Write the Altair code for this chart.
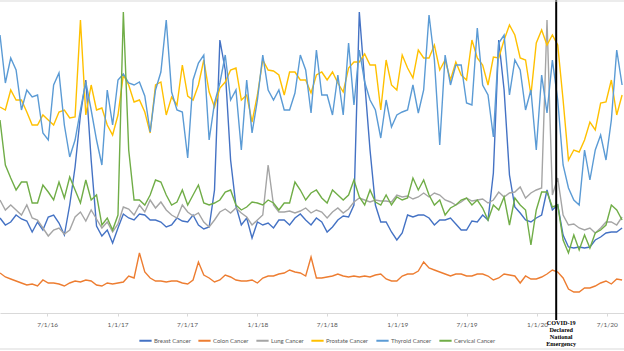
import altair as alt
import pandas as pd

series_names = ["Breast Cancer", "Colon Cancer", "Lung Cancer",
                "Prostate Cancer", "Thyroid Cancer", "Cervical Cancer"]
colors = ["#4472C4", "#ED7D31", "#A5A5A5", "#FFC000", "#5B9BD5", "#70AD47"]

# bi-weekly sample dates
dates = pd.date_range("2016-02-29", periods=117, freq="14D").strftime("%Y-%m-%dT00:00:00").tolist()

breast = [95, 88, 91, 98, 94, 92, 81, 91, 83, 96,
          98, 90, 78, 108, 146, 198, 233, 153, 87, 77,
          83, 70, 85, 99, 95, 93, 99, 98, 93, 93,
          91, 86, 88, 95, 92, 91, 98, 88, 84, 86,
          123, 273, 243, 153, 107, 88, 95, 75, 91, 88,
          90, 85, 93, 93, 88, 95, 99, 93, 88, 95,
          91, 81, 86, 93, 97, 96, 108, 301, 231, 163,
          108, 91, 91, 81, 73, 80, 98, 96, 98, 98,
          95, 88, 93, 93, 95, 89, 83, 83, 92, 91,
          98, 93, 140, 273, 223, 138, 106, 100, 93, 91,
          95, 98, 123, 103, 108, 78, 66, 65, 66, 65,
          66, 73, 76, 80, 81, 81, 85]

colon = [40, 36, 34, 32, 30, 28, 29, 27, 33, 30,
         30, 29, 27, 30, 32, 31, 33, 32, 28, 27,
         30, 29, 30, 31, 37, 35, 60, 41, 35, 32,
         32, 31, 32, 32, 30, 29, 33, 51, 38, 35,
         31, 33, 38, 36, 33, 32, 32, 33, 30, 35,
         37, 37, 39, 40, 43, 41, 40, 37, 56, 35,
         35, 36, 37, 39, 37, 36, 37, 36, 37, 36,
         38, 39, 34, 32, 32, 37, 39, 39, 42, 51,
         45, 43, 41, 39, 37, 39, 39, 37, 37, 39,
         39, 37, 33, 35, 39, 38, 37, 30, 37, 34,
         34, 36, 39, 43, 41, 35, 24, 21, 21, 25,
         25, 27, 30, 32, 29, 34, 33]

lung = [113, 103, 108, 103, 98, 108, 95, 93, 85, 77,
        83, 85, 79, 83, 96, 101, 92, 103, 94, 85,
        91, 81, 89, 106, 104, 98, 108, 101, 113, 105,
        111, 103, 98, 95, 108, 101, 97, 100, 91, 86,
        93, 101, 104, 100, 105, 100, 96, 88, 93, 98,
        148, 108, 101, 101, 102, 100, 102, 105, 100, 103,
        101, 95, 101, 105, 100, 104, 111, 115, 113, 111,
        113, 112, 112, 111, 118, 116, 117, 114, 116, 120,
        116, 120, 118, 113, 111, 108, 111, 115, 112, 113,
        114, 110, 113, 121, 116, 120, 121, 126, 115, 120,
        123, 125, 293, 118, 135, 98, 88, 89, 85, 83,
        85, 80, 85, 91, 91, 88, 96]

prostate = [206, 203, 223, 213, 213, 201, 188, 188, 198, 193,
            188, 201, 203, 195, 196, 293, 198, 228, 203, 205,
            188, 178, 198, 238, 228, 211, 213, 201, 180, 228,
            231, 198, 216, 208, 248, 217, 213, 228, 253, 221,
            206, 225, 231, 243, 245, 213, 218, 191, 218, 253,
            243, 242, 238, 218, 241, 241, 233, 233, 220, 238,
            241, 233, 241, 230, 221, 245, 251, 251, 259, 248,
            248, 203, 253, 228, 223, 258, 245, 235, 263, 255,
            255, 268, 243, 253, 233, 251, 238, 233, 273, 255,
            248, 228, 256, 255, 273, 288, 278, 255, 253, 218,
            270, 283, 268, 278, 268, 213, 153, 163, 161, 173,
            191, 183, 210, 211, 233, 198, 218]

thyroid = [278, 230, 255, 243, 203, 223, 216, 218, 180, 173,
           228, 240, 188, 156, 173, 203, 231, 203, 173, 148,
           223, 188, 233, 239, 230, 228, 231, 217, 181, 223,
           241, 293, 221, 203, 201, 155, 233, 250, 258, 173,
           210, 230, 258, 213, 223, 163, 233, 180, 213, 258,
           223, 213, 223, 203, 203, 220, 258, 243, 200, 263,
           218, 218, 198, 238, 198, 270, 208, 263, 231, 213,
           203, 175, 213, 186, 198, 201, 203, 228, 200, 223,
           298, 253, 168, 258, 228, 248, 248, 210, 208, 285,
           228, 218, 176, 270, 278, 218, 253, 243, 203, 223,
           163, 238, 200, 253, 213, 148, 125, 113, 108, 163,
           133, 163, 178, 153, 193, 263, 228]

cervical = [193, 148, 135, 123, 131, 131, 110, 110, 128, 121,
            113, 131, 115, 136, 123, 110, 133, 113, 118, 88,
            95, 83, 98, 301, 163, 113, 113, 108, 118, 133,
            131, 118, 108, 111, 123, 108, 118, 128, 110, 108,
            110, 113, 121, 123, 108, 103, 106, 111, 110, 108,
            113, 110, 103, 110, 110, 131, 123, 113, 120, 123,
            115, 110, 123, 118, 113, 118, 133, 116, 108, 123,
            111, 108, 118, 108, 116, 113, 115, 135, 123, 133,
            118, 108, 113, 98, 105, 108, 113, 115, 108, 113,
            105, 93, 108, 103, 116, 88, 115, 108, 103, 68,
            103, 121, 121, 106, 108, 73, 60, 78, 63, 78,
            65, 80, 83, 88, 108, 103, 93]

tick_dates = ["2016-07-01", "2017-01-01", "2017-07-01", "2018-01-01", "2018-07-01",
              "2019-01-01", "2019-07-01", "2020-01-01", "2020-07-01"]
covid_date = "2020-02-20T00:00:00"
covid_label = "COVID-19\nDeclared\nNational\nEmergency"

all_series = [breast, colon, lung, prostate, thyroid, cervical]
rows = []
for name, vals in zip(series_names, all_series):
    for d, v in zip(dates, vals):
        rows.append({"date": d, "series": name, "value": v})
df = pd.DataFrame(rows)


def dt(s):
    y, m, d = s.split("-")
    return alt.DateTime(year=int(y), month=int(m), date=int(d))


x_scale = alt.Scale(domain=[dt("2016-02-29"), dt("2020-08-15")])

lines = alt.Chart(df).mark_line(strokeWidth=1.4, clip=True).encode(
    x=alt.X("date:T", scale=x_scale,
            axis=alt.Axis(values=[dt(t) for t in tick_dates], format="%-m/%-d/%y",
                          title=None, grid=False, domainColor="#d9d9d9", tickColor="#d9d9d9",
                          tickSize=3, labelPadding=5, labelFont="Lato", labelFontSize=6.5,
                          labelColor="#595959")),
    y=alt.Y("value:Q", scale=alt.Scale(domain=[0, 313], nice=False, zero=True), axis=None),
    color=alt.Color("series:N",
                    scale=alt.Scale(domain=series_names, range=colors),
                    legend=alt.Legend(title=None, orient="none", legendX=138, legendY=333,
                                      direction="horizontal", columns=6,
                                      symbolType="stroke", symbolStrokeWidth=2, symbolSize=150,
                                      labelFont="Lato", labelFontSize=6, labelColor="#595959",
                                      columnPadding=3, labelOffset=1)),
)

covid_df = pd.DataFrame({"date": [covid_date], "label": [covid_label]})

rule = alt.Chart(covid_df).mark_rule(color="#000000", strokeWidth=2).encode(
    x="date:T", y=alt.value(0), y2=alt.value(320))

text = alt.Chart(covid_df).mark_text(
    lineBreak="\n", font="Liberation Serif", fontWeight="bold", fontSize=6.2,
    lineHeight=7, baseline="top", align="center", color="#000000", dx=5
).encode(x="date:T", y=alt.value(320), text="label:N")

border_df = pd.DataFrame({"pos": [1, 349]})
borders = alt.Chart(border_df).mark_rule(color="#d9d9d9", strokeWidth=1).encode(
    x=alt.value(0), x2=alt.value(624), y=alt.Y("pos:Q", scale=None))

chart = alt.layer(lines, rule, text, borders).properties(
    width=624, height=313,
    padding={"left": 0, "top": 0, "right": 0, "bottom": 38},
    autosize=alt.AutoSizeParams(type="none"),
    background="#ffffff"
).configure_view(stroke=None)

chart.save("out.html", embed_options={"renderer": "svg", "actions": False})
